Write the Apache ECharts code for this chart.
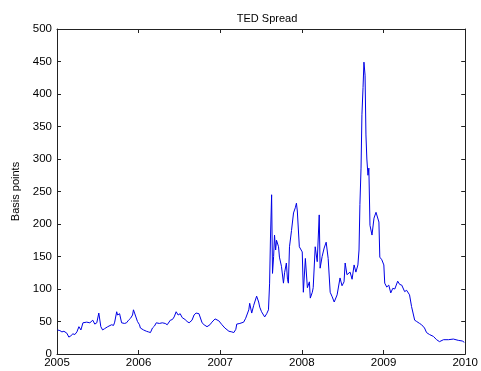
<!DOCTYPE html>
<html>
<head>
<meta charset="utf-8">
<script src="https://cdn.jsdelivr.net/npm/echarts@6/dist/echarts.min.js"></script>
<style>
  html, body { margin: 0; padding: 0; background: #fff; }
  #chart { width: 481px; height: 371px; }
</style>
</head>
<body>
<div id="chart"></div>
<script>
// TED spread (3-month LIBOR minus 3-month T-bill), basis points
const dates = [
  '2005-01-03','2005-01-07','2005-01-14','2005-01-23','2005-02-01','2005-02-14','2005-02-23','2005-03-04',
  '2005-03-13','2005-03-22','2005-03-31','2005-04-09','2005-04-18','2005-04-27','2005-05-05','2005-05-14',
  '2005-05-28','2005-06-10','2005-06-19','2005-06-28','2005-07-07','2005-07-16','2005-07-24','2005-08-02',
  '2005-08-16','2005-08-24','2005-09-02','2005-09-11','2005-09-16','2005-09-25','2005-09-29','2005-10-03',
  '2005-10-08','2005-10-17','2005-10-30','2005-11-08','2005-11-17','2005-11-26','2005-12-05','2005-12-09',
  '2005-12-14','2005-12-18','2005-12-22','2005-12-27',
  '2006-01-05','2006-01-09','2006-01-23','2006-02-05','2006-02-14','2006-02-23','2006-03-04','2006-03-13',
  '2006-03-21','2006-04-04','2006-04-17','2006-04-30','2006-05-09','2006-05-23','2006-06-01','2006-06-09',
  '2006-06-18','2006-06-27','2006-07-06','2006-07-15','2006-07-28','2006-08-06','2006-08-15','2006-08-28',
  '2006-09-06','2006-09-15','2006-09-28','2006-10-12','2006-10-21','2006-11-03','2006-11-16','2006-11-25',
  '2006-12-09','2006-12-17','2006-12-26',
  '2007-01-09','2007-01-22','2007-02-09','2007-02-22','2007-03-03','2007-03-12','2007-03-16','2007-03-30',
  '2007-04-16','2007-04-25','2007-05-09','2007-05-13','2007-05-22','2007-05-31','2007-06-13','2007-06-22',
  '2007-06-27','2007-07-05','2007-07-19','2007-07-28','2007-08-05','2007-08-10','2007-08-14','2007-08-19',
  '2007-08-23','2007-08-28','2007-09-01','2007-09-06','2007-09-10','2007-09-19','2007-09-23','2007-10-02',
  '2007-10-11','2007-10-16','2007-10-24','2007-10-29','2007-11-02','2007-11-07','2007-11-16','2007-11-25',
  '2007-12-03','2007-12-08','2007-12-12','2007-12-17','2007-12-21','2007-12-26',
  '2008-01-03','2008-01-08','2008-01-17','2008-01-26','2008-02-04','2008-02-08','2008-02-17','2008-02-21',
  '2008-03-01','2008-03-10','2008-03-19','2008-03-23','2008-04-01','2008-04-10','2008-04-19','2008-04-28',
  '2008-05-07','2008-05-16','2008-05-25','2008-06-07','2008-06-20','2008-06-29','2008-07-08','2008-07-13',
  '2008-07-21','2008-08-04','2008-08-13','2008-08-22','2008-08-30','2008-09-08','2008-09-13','2008-09-17',
  '2008-09-22','2008-09-26','2008-10-01','2008-10-05','2008-10-10','2008-10-14','2008-10-18','2008-10-23',
  '2008-10-27','2008-11-01','2008-11-10','2008-11-19','2008-11-28','2008-12-06','2008-12-11','2008-12-15',
  '2008-12-24',
  '2009-01-02','2009-01-06','2009-01-15','2009-01-24','2009-02-02','2009-02-11','2009-02-20','2009-03-05',
  '2009-03-14','2009-03-23','2009-04-05','2009-04-14','2009-04-27','2009-05-06','2009-05-20','2009-05-29',
  '2009-06-11','2009-06-20','2009-07-03','2009-07-12','2009-07-25','2009-08-12','2009-08-26','2009-09-08',
  '2009-09-26','2009-10-18','2009-11-09','2009-12-01','2009-12-19','2009-12-28'
];

const spread = [
  37, 40, 36, 34, 35, 32, 26, 28,
  31, 30, 34, 42, 37, 48, 46, 49,
  48, 52, 46, 48, 63, 42, 37, 39,
  42, 40, 45, 44, 49, 65, 60, 57,
  62, 48, 47, 48, 52, 55, 60, 68,
  63, 66, 60, 50,
  45, 40, 37, 35, 34, 33, 40, 43,
  48, 47, 48, 47, 45, 52, 53, 57,
  65, 60, 62, 56, 53, 50, 48, 52,
  60, 63, 62, 48, 45, 42, 45, 49,
  54, 57, 51,
  45, 40, 35, 34, 33, 38, 46, 47,
  49, 55, 68, 78, 63, 75, 89, 80,
  72, 65, 57, 62, 68, 109, 180, 245,
  124, 150, 183, 160, 175, 165, 149, 135,
  109, 125, 140, 115, 109, 165, 190, 217,
  225, 232, 220, 218, 165, 168,
  157, 95, 147, 102, 111, 86, 95, 102,
  165, 142, 214, 132, 150, 163, 172, 147,
  95, 88, 80, 91, 117, 105, 111, 140,
  122, 126, 115, 137, 126, 137, 160, 230,
  286, 368, 410, 449, 429, 337, 300, 275,
  286, 198, 183, 209, 218, 216, 203, 149,
  145,
  137, 109, 103, 106, 94, 101, 100, 112,
  107, 106, 96, 98, 91, 73, 52, 50,
  47, 45, 40, 33, 30, 27, 22, 19,
  22, 22, 23, 21, 20, 18
];

const yearTicks = [2005, 2006, 2007, 2008, 2009, 2010];
const yMin = 0, yMax = 500, yStep = 50;

// dates become millisecond timestamps on a plain numeric axis
function toTime(s) {
  const p = s.split('-').map(Number);
  return new Date(p[0], p[1] - 1, p[2]).getTime();
}
const tickTimes = yearTicks.map(y => new Date(y, 0, 1).getTime());
const xMin = tickTimes[0];
const xMax = tickTimes[tickTimes.length - 1];

const ink = '#000';
const fontFamily = 'Liberation Sans, Arial, sans-serif';
const labelFont = { color: ink, fontFamily: fontFamily, fontSize: 11.5 };

const frameX = {
  type: 'value', min: xMin, max: xMax,
  axisLine: { show: true, onZero: false, lineStyle: { color: '#222', width: 1 } },
  axisTick: { show: true, inside: true, length: 4, customValues: tickTimes, lineStyle: { color: '#222' } },
  splitLine: { show: false }
};
const frameY = {
  type: 'value', min: yMin, max: yMax, interval: yStep,
  axisLine: { show: true, onZero: false, lineStyle: { color: '#222', width: 1 } },
  axisTick: { show: true, inside: true, length: 4, lineStyle: { color: '#222' } },
  splitLine: { show: false }
};

const chart = echarts.init(document.getElementById('chart'), null, { renderer: 'canvas' });
chart.setOption({
  animation: false,
  backgroundColor: '#fff',
  title: {
    text: 'TED Spread',
    left: 262, top: 8, textAlign: 'center',
    textStyle: { color: ink, fontWeight: 'normal', fontFamily: fontFamily, fontSize: 11 }
  },
  grid: { left: 57, right: 13, top: 29, bottom: 17, containLabel: false },
  xAxis: [
    Object.assign({}, frameX, {
      position: 'bottom',
      axisLabel: Object.assign({}, labelFont, {
        customValues: tickTimes, margin: 3, showMinLabel: true, showMaxLabel: true,
        formatter: v => String(new Date(v).getFullYear())
      })
    }),
    Object.assign({}, frameX, { position: 'top', axisLabel: { show: false } })
  ],
  yAxis: [
    Object.assign({}, frameY, {
      position: 'left',
      name: 'Basis points', nameLocation: 'middle', nameGap: 36, nameRotate: 90,
      nameTextStyle: Object.assign({}, labelFont, { fontSize: 11 }),
      axisLabel: Object.assign({}, labelFont, { margin: 5 })
    }),
    Object.assign({}, frameY, { position: 'right', axisLabel: { show: false } })
  ],
  series: [{
    type: 'line',
    data: dates.map((d, i) => [toTime(d), spread[i]]),
    showSymbol: false,
    lineStyle: { color: '#0000e6', width: 1 },
    xAxisIndex: 0, yAxisIndex: 0
  }]
});
</script>
</body>
</html>
